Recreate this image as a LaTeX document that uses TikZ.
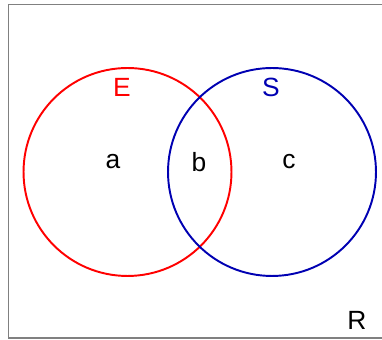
\documentclass[tikz,border=0pt]{standalone}
\usepackage{fontspec}
\setmainfont{Liberation Sans}
\usetikzlibrary{positioning}

\begin{document}
\begin{tikzpicture}[
    x=0.02cm, y=-0.02cm,
    set/.style={draw, circle, line width=1.1pt, minimum size=4.16cm, inner sep=0pt},
    lbl/.style={font=\fontsize{15}{18}\selectfont, inner sep=0pt}
]
    \useasboundingbox (0,0) rectangle (382,340);

    % Universe frame
    \draw[gray, line width=0.8pt] (386,4.5) -- (8.5,4.5) -- (8.5,338) -- (386,338);

    % Sets
    \node[set, red] (E) at (127.5,172) {};
    \node[set, blue!70!black] (S) at (272,172) {};

    % Set names
    \node[lbl, red] (nameE) at (122,87) {E};
    \node[lbl, blue!70!black] (nameS) at (271,87) {S};

    % Regions
    \node[lbl] (a) at (113,162) {a};
    \node[lbl] (b) at (199,162) {b};
    \node[lbl] (c) at (289,162) {c};
    \node[lbl] (R) at (357,320) {R};
\end{tikzpicture}
\end{document}
